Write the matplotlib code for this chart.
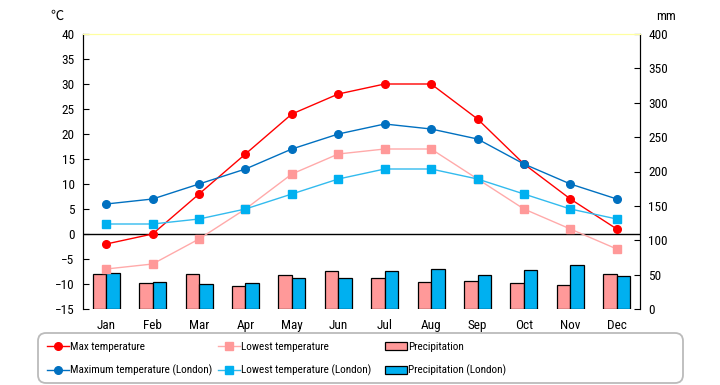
import matplotlib
matplotlib.use("Agg")
import matplotlib.pyplot as plt
from matplotlib import font_manager
from matplotlib.patches import FancyBboxPatch
import numpy as np

months = ["Jan", "Feb", "Mar", "Apr", "May", "Jun", "Jul", "Aug", "Sep", "Oct", "Nov", "Dec"]
max_temp = [-2, 0, 8, 16, 24, 28, 30, 30, 23, 14, 7, 1]
low_temp = [-7, -6, -1, 5, 12, 16, 17, 17, 11, 5, 1, -3]
max_temp_london = [6, 7, 10, 13, 17, 20, 22, 21, 19, 14, 10, 7]
low_temp_london = [2, 2, 3, 5, 8, 11, 13, 13, 11, 8, 5, 3]
precip = [51, 38, 51, 33, 49, 55, 45, 39, 41, 38, 35, 51]
precip_london = [52, 39, 36, 38, 45, 45, 55, 58, 49, 57, 64, 48]

# narrow font if there is one, CJK family for the ℃ sign
names = {f.name for f in font_manager.fontManager.ttflist}
narrow = [n for n in ["Liberation Sans Narrow", "Roboto Condensed", "Arial Narrow", "PT Sans Narrow", "Archivo Narrow"] if n in names][:1]
plt.rcParams['font.family'] = narrow + ["Noto Sans CJK JP", "DejaVu Sans"]

fig = plt.figure(figsize = (7.2, 3.85), dpi = 100)
ax1 = fig.add_axes([83 / 720, 76 / 385, 557 / 720, 275 / 385])
ax2 = ax1.twinx()
ax1.set_zorder(ax2.get_zorder() + 1)
ax1.patch.set_visible(False)
ax2.set_facecolor("#FFFFCC")

x = np.arange(len(months))
w = 0.29
ax2.bar(x - w / 2, precip, w, color = "#FF9999", edgecolor = "black", linewidth = 0.9, label = "Precipitation")
ax2.bar(x + w / 2, precip_london, w, color = "#00B0F0", edgecolor = "black", linewidth = 0.9, label = "Precipitation (London)")
ax2.set_ylim(0, 400)
ax2.set_yticks(range(0, 401, 50))

ax1.axhline(0, color = "black", lw = 1)
ax1.plot(x, max_temp, color = "#FF0000", lw = 1, marker = "o", ms = 5.5, label = "Max temperature")
ax1.plot(x, max_temp_london, color = "#0070C0", lw = 1, marker = "o", ms = 5.5, label = "Maximum temperature (London)")
ax1.plot(x, low_temp, color = "#FFAAAA", lw = 1, marker = "s", ms = 5.5, mfc = "#FF9999", mec = "#FF9999", label = "Lowest temperature")
ax1.plot(x, low_temp_london, color = "#33BBEE", lw = 1, marker = "s", ms = 5.5, mfc = "#00B0F0", mec = "#00B0F0", label = "Lowest temperature (London)")
ax1.set_ylim(-15, 40)
ax1.set_yticks(range(-15, 41, 5))
ax1.set_xlim(-0.5, 11.5)
ax1.set_xticks(x)
ax1.set_xticklabels(months)

for a in (ax1, ax2):
    a.spines["bottom"].set_visible(False)
    a.spines["top"].set_color("#FFFFA0")
    a.spines["left"].set_color("black")
    a.spines["right"].set_color("black")
ax1.tick_params(axis = "y", direction = "in", length = 4, labelsize = 9.5, pad = 6)
ax2.tick_params(axis = "y", direction = "in", length = 4, labelsize = 9.5, pad = 6)
ax1.tick_params(axis = "x", length = 0, labelsize = 9.5, pad = 7)

fig.text(57 / 720, 1 - 16 / 385, "℃", fontsize = 9.5, ha = "center", va = "center")
fig.text(666 / 720, 1 - 16 / 385, "mm", fontsize = 9.5, ha = "center", va = "center")

# legend: rounded box with three columns
fig.patches.append(FancyBboxPatch((38, 2), 645, 50, boxstyle = "round,pad=0,rounding_size=8",
                                  facecolor = "white", edgecolor = "#BBBBBB", linewidth = 1.3, transform = None))
h1, l1 = ax1.get_legend_handles_labels()
h2, l2 = ax2.get_legend_handles_labels()
cols = [([h1[0], h1[1]], [l1[0], l1[1]], 47),
        ([h1[2], h1[3]], [l1[2], l1[3]], 218),
        ([h2[0], h2[1]], [l2[0], l2[1]], 385)]
for hs, ls, x0 in cols:
    leg = fig.legend(hs, ls, loc = "upper left", bbox_to_anchor = (x0 / 720, 1 - 342 / 385), frameon = False,
                     fontsize = 8, borderpad = 0, borderaxespad = 0, handlelength = 2.0, handletextpad = 0.1,
                     labelspacing = 1.15)

fig.savefig("out.png", dpi = 100)
